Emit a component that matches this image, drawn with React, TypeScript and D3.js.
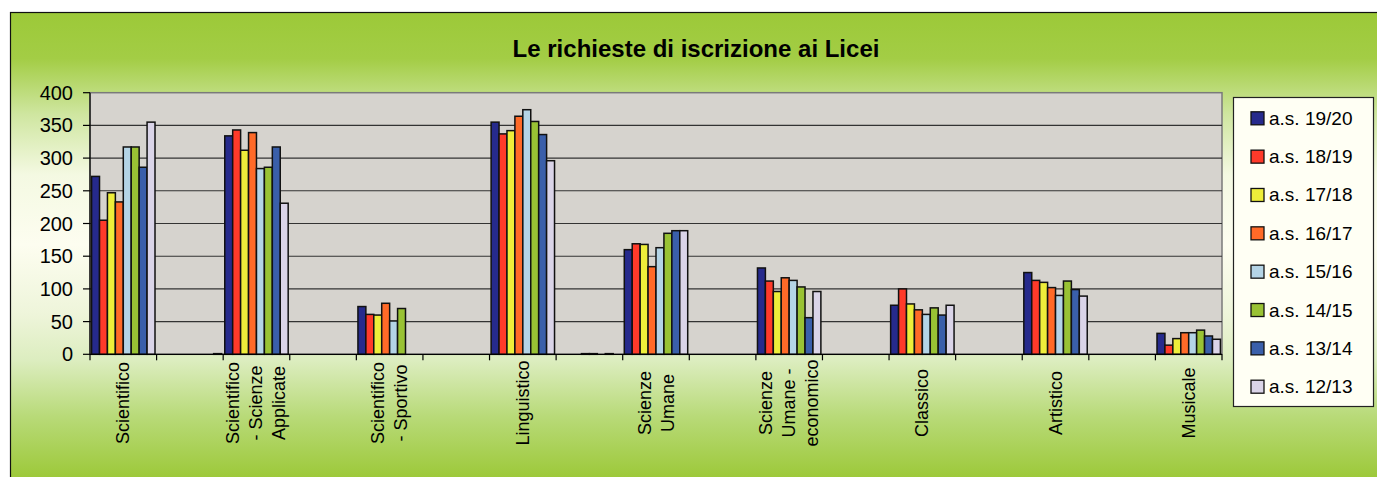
import * as d3 from "d3";

const categories: string[][] = [
  ["Scientifico"],
  [],
  ["Scientifico", "- Scienze", "Applicate"],
  [],
  ["Scientifico", "- Sportivo"],
  [],
  ["Linguistico"],
  [],
  ["Scienze", "Umane"],
  [],
  ["Scienze", "Umane -", "economico"],
  [],
  ["Classico"],
  [],
  ["Artistico"],
  [],
  ["Musicale"],
];

const seriesNames = [
  "a.s. 19/20",
  "a.s. 18/19",
  "a.s. 17/18",
  "a.s. 16/17",
  "a.s. 15/16",
  "a.s. 14/15",
  "a.s. 13/14",
  "a.s. 12/13",
];

const seriesColors = [
  "#262a8c",
  "#ff3a2a",
  "#eeee3a",
  "#ff6a28",
  "#b4d4e6",
  "#99c234",
  "#3a5faa",
  "#dad4e8",
];

// one value per category slot (empty slots between the named ones)
const v1920 = [272, 0, 334, 0, 73, 0, 355, 0, 160, 0, 132, 0, 75, 0, 125, 0, 32];
const v1819 = [205, 0, 343, 0, 61, 0, 337, 0, 169, 0, 112, 0, 100, 0, 113, 0, 14];
const v1718 = [247, 0, 312, 0, 60, 0, 342, 0, 168, 0, 96, 0, 77, 0, 110, 0, 24];
const v1617 = [233, 0, 339, 0, 78, 0, 364, 1, 134, 0, 117, 0, 68, 0, 102, 0, 33];
const v1516 = [317, 0, 284, 0, 51, 0, 374, 1, 163, 0, 113, 0, 61, 0, 90, 0, 33];
const v1415 = [317, 0, 286, 0, 70, 0, 356, 0, 185, 0, 103, 0, 71, 0, 112, 0, 37];
const v1314 = [286, 0, 317, 0, 0, 0, 336, 1, 189, 0, 56, 0, 60, 0, 99, 0, 28];
const v1213 = [355, 1, 231, 0, 0, 0, 296, 0, 189, 0, 96, 0, 75, 0, 89, 0, 23];

const seriesValues = [v1920, v1819, v1718, v1617, v1516, v1415, v1314, v1213];

const yTicks = [0, 50, 100, 150, 200, 250, 300, 350, 400];

const W = 1377;
const H = 477;
const plot = { left: 90, right: 1222, top: 92.7, bottom: 354.3 };
const font = "Arial, 'Liberation Sans', sans-serif";

export default function App() {
  const idx = categories.map((_, i) => String(i));
  const x0 = d3.scaleBand().domain(idx).range([plot.left, plot.right]).padding(0);
  const x1 = d3
    .scaleBand()
    .domain(seriesNames)
    .range([0, x0.bandwidth()])
    .paddingInner(0)
    .paddingOuter(0.2);
  const y = d3.scaleLinear().domain([0, 400]).range([plot.bottom, plot.top]);

  const tickXs = [...idx.map((k) => x0(k)!), plot.right];

  // legend rows
  const ly = d3
    .scalePoint()
    .domain(seriesNames)
    .range([118.3, 386.7]);

  return (
    <svg
      width={W}
      height={H}
      style={{ position: "absolute", left: 0, top: 0, fontFamily: font }}
    >
      <defs>
        <linearGradient id="bg" x1="0" y1="12" x2="0" y2="477" gradientUnits="userSpaceOnUse">
          <stop offset="0" stopColor="#9cc938" />
          <stop offset="0.1" stopColor="#a3cd45" />
          <stop offset="0.22" stopColor="#cfe6a0" />
          <stop offset="0.35" stopColor="#f4f9e2" />
          <stop offset="0.5" stopColor="#fdfdf0" />
          <stop offset="0.65" stopColor="#eef5da" />
          <stop offset="0.75" stopColor="#dcedbf" />
          <stop offset="0.87" stopColor="#b8da78" />
          <stop offset="1" stopColor="#9dc93a" />
        </linearGradient>
      </defs>

      <rect x={10.5} y={12.5} width={W} height={H} fill="url(#bg)" stroke="#111" strokeWidth={1.2} />

      <text
        x={696}
        y={57}
        textAnchor="middle"
        fontSize={24}
        fontWeight="bold"
        fill="#000"
      >
        Le richieste di iscrizione ai Licei
      </text>

      {/* plot area */}
      <rect
        x={plot.left}
        y={plot.top}
        width={plot.right - plot.left}
        height={plot.bottom - plot.top}
        fill="#d6d3ce"
        stroke="#7a7a7a"
        strokeWidth={1.5}
      />
      {yTicks.slice(1, -1).map((t) => (
        <line
          key={t}
          x1={plot.left}
          x2={plot.right}
          y1={y(t)}
          y2={y(t)}
          stroke="#333"
          strokeWidth={1.1}
        />
      ))}

      {/* bars */}
      {seriesValues.map((vals, s) =>
        vals.map((v, c) =>
          v > 0 ? (
            <rect
              key={`${s}-${c}`}
              x={x0(String(c))! + x1(seriesNames[s])!}
              y={y(v)}
              width={x1.bandwidth()}
              height={y(0) - y(v)}
              fill={seriesColors[s]}
              stroke="#111"
              strokeWidth={1.5}
            />
          ) : null
        )
      )}

      {/* y axis */}
      <line x1={plot.left} x2={plot.left} y1={plot.top} y2={plot.bottom} stroke="#000" strokeWidth={1.2} />
      {yTicks.map((t) => (
        <g key={t}>
          <line x1={plot.left - 7} x2={plot.left} y1={y(t)} y2={y(t)} stroke="#000" strokeWidth={1.2} />
          <text
            x={73}
            y={y(t)}
            textAnchor="end"
            dominantBaseline="central"
            fontSize={20}
            fill="#000"
          >
            {t}
          </text>
        </g>
      ))}

      {/* x axis */}
      <line x1={plot.left} x2={plot.right} y1={plot.bottom} y2={plot.bottom} stroke="#000" strokeWidth={1.2} />
      {tickXs.map((tx, i) => (
        <line key={i} x1={tx} x2={tx} y1={plot.bottom} y2={plot.bottom + 6} stroke="#000" strokeWidth={1.2} />
      ))}
      {categories.map((lines, c) => {
        const cx = x0(String(c))! + x0.bandwidth() / 2;
        const n = lines.length;
        return lines.map((ln, j) => {
          const lx = cx + (j - (n - 1) / 2) * 23;
          return (
            <text
              key={`${c}-${j}`}
              transform={`translate(${lx},403) rotate(-90)`}
              textAnchor="middle"
              dominantBaseline="central"
              fontSize={18}
              fill="#000"
            >
              {ln}
            </text>
          );
        });
      })}

      {/* legend */}
      <rect x={1233.5} y={97.5} width={140} height={309} fill="#fffff4" stroke="#222" strokeWidth={1.2} />
      {seriesNames.map((name, s) => (
        <g key={name} transform={`translate(1251,${ly(name)})`}>
          <rect x={0} y={-6.5} width={13} height={13} fill={seriesColors[s]} stroke="#111" strokeWidth={1.3} />
          <text x={18} y={0} dominantBaseline="central" fontSize={19} fill="#000">
            {name}
          </text>
        </g>
      ))}
    </svg>
  );
}
